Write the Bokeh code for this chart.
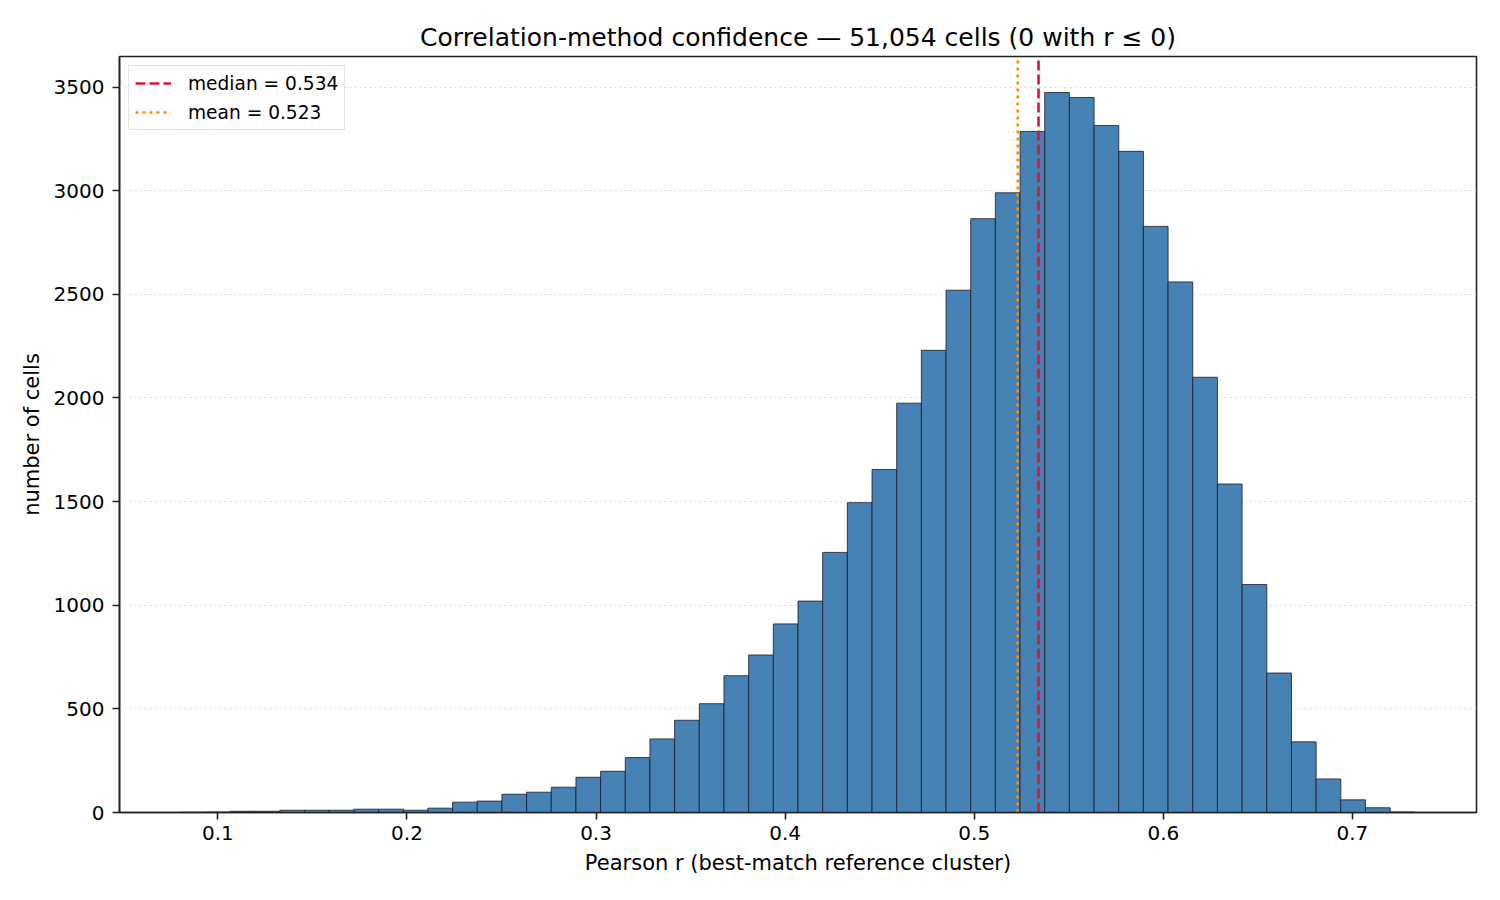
import numpy as np
from bokeh.plotting import figure
from bokeh.models import Range1d, Legend, LegendItem, FixedTicker, ColumnDataSource
from bokeh.embed import file_html
from bokeh.resources import INLINE

# ---- data ----
r_min = 0.0806
r_max = 0.7330
n_bins = 50
counts = [1, 2, 6, 6, 11, 11, 11, 16, 16, 11,
          21, 50, 55, 88, 98, 122, 170, 199, 265, 355,
          445, 525, 660, 760, 910, 1020, 1255, 1495, 1655, 1975,
          2230, 2520, 2865, 2990, 3286, 3474, 3450, 3315, 3190, 2828,
          2560, 2100, 1585, 1100, 673, 341, 162, 61, 23, 2]
median_r = 0.534
mean_r = 0.523
n_cells = 51054
n_nonpos = 0
x_ticks = [0.1, 0.2, 0.3, 0.4, 0.5, 0.6, 0.7]
y_ticks = [0, 500, 1000, 1500, 2000, 2500, 3000, 3500]

edges = np.linspace(r_min, r_max, n_bins + 1)
src = ColumnDataSource(dict(left=edges[:-1], right=edges[1:],
                            top=counts, bottom=[0] * len(counts)))

FONT = "DejaVu Sans"
span = r_max - r_min
ymax = max(counts) * 1.05

p = figure(frame_width=1357, frame_height=756,
           min_border_left=119, min_border_right=8,
           min_border_top=56, min_border_bottom=72,
           x_range=Range1d(r_min - 0.05 * span, r_max + 0.05 * span),
           y_range=Range1d(0, ymax),
           output_backend="svg", toolbar_location=None,
           title=f"Correlation-method confidence \u2014 {n_cells:,} cells ({n_nonpos} with r \u2264 0)")

p.title.align = "center"
p.title.text_font = FONT
p.title.text_font_size = "25px"
p.title.text_font_style = "normal"
p.title.text_color = "black"
p.title.standoff = 10

p.background_fill_color = "white"
p.border_fill_color = "white"
p.outline_line_color = "#222222"
p.outline_line_width = 1.6

p.quad(left="left", right="right", top="top", bottom="bottom", source=src,
       fill_color="#4682b4", line_color="#1a1a2a", line_width=0.8)

r_med = p.line(x=[median_r, median_r], y=[0, ymax], line_color="#dc143c",
               line_width=2.6, line_dash="10 4")
r_mean = p.line(x=[mean_r, mean_r], y=[0, ymax], line_color="#ff8c00",
                line_width=2.6, line_dash="3 4")

legend = Legend(items=[LegendItem(label=f"median = {median_r:.3f}", renderers=[r_med]),
                       LegendItem(label=f"mean = {mean_r:.3f}", renderers=[r_mean])],
                location="top_left")
legend.label_text_font = FONT
legend.label_text_font_size = "18.6px"
legend.label_text_color = "black"
legend.glyph_width = 36
legend.glyph_height = 22
legend.label_height = 22
legend.label_standoff = 17
legend.spacing = 7
legend.padding = 6
legend.margin = 9
legend.border_line_color = "#cccccc"
legend.border_line_width = 1.5
legend.background_fill_alpha = 0.85
p.add_layout(legend)

p.xgrid.visible = False
p.ygrid.grid_line_color = "#d8d8d8"
p.ygrid.grid_line_dash = "2 3"
p.ygrid.grid_line_width = 1.2

p.xaxis.ticker = FixedTicker(ticks=x_ticks)
p.yaxis.ticker = FixedTicker(ticks=y_ticks)
for ax in (p.xaxis, p.yaxis):
    ax.axis_line_color = "#222222"
    ax.axis_line_width = 1.6
    ax.major_tick_line_color = "#222222"
    ax.major_tick_line_width = 1.6
    ax.major_tick_out = 7
    ax.major_tick_in = 0
    ax.minor_tick_line_color = None
    ax.major_label_text_font = FONT
    ax.major_label_text_font_size = "20px"
    ax.major_label_text_color = "black"
    ax.axis_label_text_font = FONT
    ax.axis_label_text_font_size = "21px"
    ax.axis_label_text_font_style = "normal"
    ax.axis_label_text_color = "black"

p.xaxis.axis_label = "Pearson r (best-match reference cluster)"
p.yaxis.axis_label = "number of cells"
p.xaxis.major_label_standoff = 6
p.yaxis.major_label_standoff = 8
p.xaxis.axis_label_standoff = 8
p.yaxis.axis_label_standoff = 7

open("out.html", "w").write(file_html(p, INLINE))
